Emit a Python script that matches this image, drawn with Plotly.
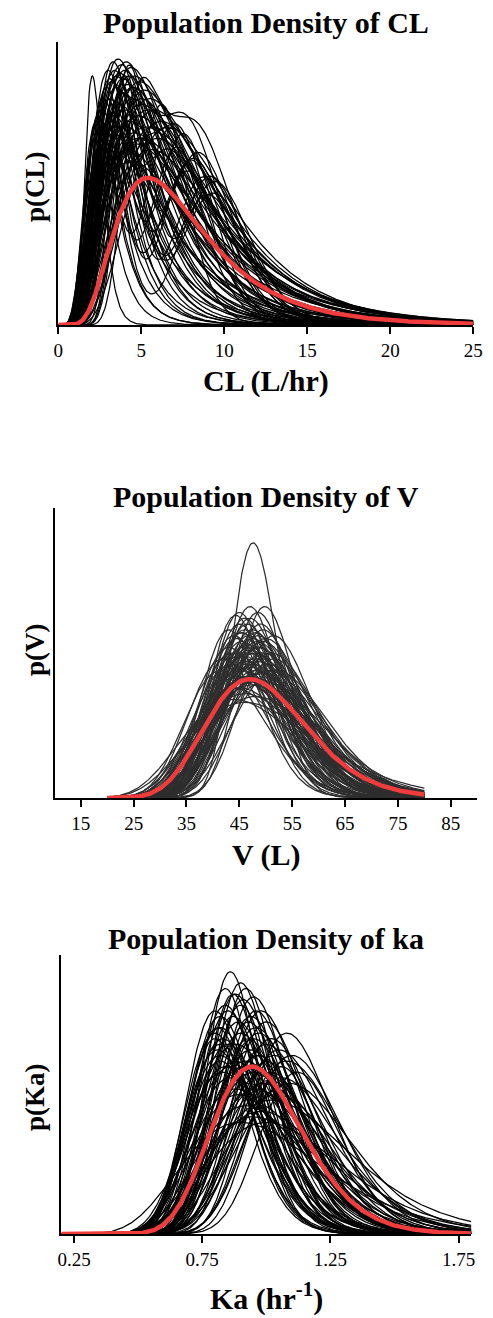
import numpy as np
import plotly.graph_objects as go

# ---------------- data (per-curve density parameters) -------------
# CL panel: unimodal individual densities  (mode, peak height, log-spread)
CL_MODE = [2.05, 2.9, 3.0, 3.2, 3.3, 3.5, 3.6, 3.8, 3.9, 4.1, 4.2, 4.4, 4.6, 4.9, 5.2,
           3.3, 3.7, 4.0, 4.3, 4.5, 5.0, 5.5, 5.8, 6.2, 6.6, 4.8, 5.3, 5.9, 3.1, 3.4,
           2.6, 2.8, 4.7, 5.6, 3.6, 4.4, 2.5, 3.0, 5.1, 2.3, 3.9, 4.6,
           3.4, 3.7, 4.0, 4.3, 3.1, 2.7, 3.5, 3.9, 4.5, 5.0, 5.4, 2.4, 3.2, 4.1, 4.8, 3.6,
           5.7, 6.0, 2.2, 4.2]
CL_PEAK = [0.88, 0.84, 0.90, 0.86, 0.93, 0.88, 0.94, 0.92, 0.87, 0.93, 0.85, 0.91, 0.88, 0.86, 0.83,
           0.74, 0.78, 0.76, 0.72, 0.80, 0.78, 0.80, 0.76, 0.72, 0.70, 0.74, 0.70, 0.68, 0.80, 0.70,
           0.76, 0.66, 0.64, 0.62, 0.60, 0.58, 0.70, 0.62, 0.66, 0.72, 0.82, 0.68,
           0.90, 0.89, 0.90, 0.88, 0.87, 0.80, 0.84, 0.82, 0.84, 0.80, 0.76, 0.74, 0.72, 0.70,
           0.66, 0.66, 0.70, 0.66, 0.66, 0.62]
CL_SPREAD = [0.26, 0.40, 0.42, 0.44, 0.40, 0.46, 0.45, 0.48, 0.50, 0.46, 0.52, 0.48, 0.50, 0.52, 0.50,
             0.55, 0.52, 0.56, 0.58, 0.54, 0.55, 0.52, 0.50, 0.48, 0.46, 0.58, 0.56, 0.50, 0.50, 0.60,
             0.48, 0.55, 0.60, 0.55, 0.62, 0.62, 0.45, 0.58, 0.56, 0.42, 0.44, 0.58,
             0.44, 0.47, 0.50, 0.49, 0.43, 0.42, 0.50, 0.53, 0.52, 0.52, 0.50, 0.40, 0.52, 0.56,
             0.57, 0.58, 0.48, 0.46, 0.38, 0.60]
# CL panel: two-humped individual densities
CLB_MODE1 = [3.0, 3.5, 2.8, 4.0, 3.3, 3.8, 2.6, 4.4, 3.2, 3.6, 2.9, 4.2, 3.4, 5.0, 3.0, 3.7, 4.6]
CLB_PEAK1 = [0.80, 0.85, 0.70, 0.88, 0.75, 0.82, 0.65, 0.84, 0.78, 0.70, 0.72, 0.90, 0.66, 0.84, 0.68, 0.76, 0.80]
CLB_SPREAD1 = [0.30, 0.28, 0.32, 0.25, 0.30, 0.28, 0.35, 0.25, 0.30, 0.28, 0.30, 0.24, 0.32, 0.25, 0.30, 0.30, 0.26]
CLB_MODE2 = [8.0, 8.8, 7.2, 8.5, 7.6, 9.2, 6.8, 9.5, 6.4, 8.2, 9.0, 7.4, 7.0, 8.6, 7.8, 9.4, 8.0]
CLB_PEAK2 = [0.58, 0.52, 0.62, 0.60, 0.66, 0.52, 0.68, 0.50, 0.72, 0.58, 0.46, 0.64, 0.56, 0.62, 0.54, 0.46, 0.64]
CLB_SPREAD2 = [0.22, 0.21, 0.23, 0.22, 0.21, 0.20, 0.23, 0.20, 0.20, 0.22, 0.22, 0.21, 0.26, 0.22, 0.24, 0.21, 0.22]
CL_MEAN = (5.4, 0.52, 0.50)   # population (red) density: mode, peak, spread

# V panel
V_MODE = [47.6, 49.8, 44.3, 45.0, 46.0, 47.0, 48.0, 49.0, 50.0, 44.0, 43.0, 45.5, 46.5, 47.5,
          48.5, 49.5, 51.0, 42.0, 44.5, 45.8, 46.8, 47.8, 48.8, 50.5, 43.5, 45.2, 46.2, 47.2,
          48.2, 49.2, 44.8, 46.6, 48.6, 45.6, 47.4, 46.0, 48.0, 44.0, 50.0, 52.0, 41.5, 43.0,
          51.5, 45.0, 47.0, 48.5, 46.0, 49.5, 44.0, 46.0, 47.0, 45.4, 48.4,
          46.5, 47.5, 45.5, 48.5, 44.5, 49.5, 46.0, 47.0, 48.0, 45.0, 49.0, 46.5, 47.5, 45.5,
          48.5, 47.0, 46.0, 48.0, 44.5, 50.5, 43.5, 51.5, 46.8, 48.8, 45.0]
V_PEAK = [0.88, 0.66, 0.63, 0.60, 0.58, 0.62, 0.57, 0.60, 0.55, 0.56, 0.52, 0.54, 0.53, 0.55,
          0.52, 0.50, 0.50, 0.48, 0.50, 0.49, 0.50, 0.48, 0.47, 0.46, 0.46, 0.45, 0.46, 0.45,
          0.44, 0.43, 0.42, 0.42, 0.41, 0.40, 0.39, 0.36, 0.35, 0.38, 0.40, 0.44, 0.44, 0.58,
          0.56, 0.64, 0.66, 0.64, 0.62, 0.58, 0.34, 0.33, 0.52, 0.57, 0.54,
          0.60, 0.58, 0.57, 0.56, 0.55, 0.54, 0.52, 0.51, 0.50, 0.49, 0.48, 0.47, 0.46, 0.44,
          0.43, 0.42, 0.41, 0.40, 0.45, 0.44, 0.50, 0.48, 0.56, 0.52, 0.38]
V_SPREAD = [0.09, 0.11, 0.12, 0.13, 0.14, 0.13, 0.14, 0.13, 0.15, 0.14, 0.15, 0.15, 0.16, 0.15,
            0.16, 0.16, 0.16, 0.17, 0.16, 0.17, 0.17, 0.17, 0.17, 0.18, 0.18, 0.18, 0.18, 0.19,
            0.19, 0.19, 0.20, 0.20, 0.20, 0.21, 0.21, 0.22, 0.22, 0.21, 0.20, 0.17, 0.18, 0.13,
            0.13, 0.12, 0.115, 0.12, 0.125, 0.135, 0.25, 0.26, 0.16, 0.14, 0.15,
            0.13, 0.14, 0.14, 0.145, 0.15, 0.15, 0.16, 0.165, 0.17, 0.17, 0.175, 0.18, 0.185, 0.19,
            0.195, 0.20, 0.205, 0.21, 0.18, 0.18, 0.16, 0.15, 0.14, 0.15, 0.22]
V_MEAN = (47.0, 0.41, 0.20)

# ka panel
KA_MODE = [0.86, 0.90, 0.88, 0.92, 0.95, 0.84, 0.80, 0.98, 1.00, 0.87, 0.93, 0.96, 0.82, 0.80,
           0.90, 1.02, 1.05, 0.85, 0.94, 0.97, 0.88, 0.82, 0.81, 1.08, 1.10, 0.91, 0.99, 0.86,
           0.93, 1.01, 0.83, 0.96, 0.89, 1.04, 0.92, 0.98, 1.00, 0.95, 1.12, 1.06, 1.00, 0.96,
           0.80, 0.82, 0.84, 0.90, 0.95, 0.88, 1.02, 0.90, 1.08, 0.82,
           0.87, 0.91, 0.85, 0.89, 0.94, 0.97, 0.83, 0.82, 1.00, 1.03, 0.92, 0.86, 0.95, 0.99,
           0.88, 1.06, 0.84, 0.81, 1.09, 0.93, 0.96, 1.02, 1.04, 0.98]
KA_PEAK = [0.94, 0.90, 0.86, 0.88, 0.85, 0.82, 0.80, 0.80, 0.76, 0.78, 0.76, 0.74, 0.74, 0.72,
           0.72, 0.70, 0.66, 0.68, 0.66, 0.64, 0.62, 0.64, 0.66, 0.62, 0.64, 0.60, 0.58, 0.56,
           0.54, 0.55, 0.58, 0.52, 0.50, 0.50, 0.46, 0.44, 0.40, 0.42, 0.58, 0.60, 0.62, 0.64,
           0.70, 0.62, 0.88, 0.82, 0.70, 0.68, 0.48, 0.40, 0.72, 0.78,
           0.86, 0.84, 0.80, 0.76, 0.78, 0.72, 0.70, 0.68, 0.68, 0.64, 0.62, 0.60, 0.58, 0.54,
           0.52, 0.56, 0.60, 0.74, 0.54, 0.70, 0.80, 0.58, 0.52, 0.46]
KA_SPREAD = [0.12, 0.13, 0.14, 0.13, 0.14, 0.15, 0.15, 0.15, 0.15, 0.15, 0.16, 0.16, 0.17, 0.16,
             0.16, 0.16, 0.17, 0.17, 0.18, 0.18, 0.18, 0.18, 0.17, 0.18, 0.16, 0.19, 0.19, 0.20,
             0.20, 0.20, 0.20, 0.21, 0.22, 0.21, 0.23, 0.24, 0.26, 0.25, 0.14, 0.13, 0.12, 0.12,
             0.15, 0.17, 0.13, 0.14, 0.17, 0.21, 0.26, 0.30, 0.15, 0.16,
             0.13, 0.14, 0.15, 0.16, 0.15, 0.16, 0.17, 0.17, 0.17, 0.17, 0.19, 0.19, 0.20, 0.21,
             0.22, 0.19, 0.19, 0.15, 0.20, 0.15, 0.14, 0.15, 0.14, 0.16]
KA_MEAN = (0.944, 0.60, 0.19)

CL_TICKS = [0, 5, 10, 15, 20, 25]
V_TICKS = [15, 25, 35, 45, 55, 65, 75, 85]
KA_TICKS = [0.25, 0.75, 1.25, 1.75]
KA_TICKTEXT = ["0.25", "0.75", "1.25", "1.75"]

TITLES = ["Population Density of CL", "Population Density of V", "Population Density of ka"]
XTITLES = ["CL (L/hr)", "V (L)", "Ka (hr<sup>-1</sup>)"]
YTITLES = ["p(CL)", "p(V)", "p(Ka)"]


# ---------------- helpers -------------
def shape(x, m, h, s):
    """log-normal density shape scaled to height h at its mode m"""
    mu = np.log(m) + s * s
    return h * (m / x) * np.exp(-(np.log(x) - mu) ** 2 / (2 * s * s) + s * s / 2)


def stack(x, curves):
    xs, ys = [], []
    for y in curves:
        xs += list(x) + [None]
        ys += list(y) + [None]
    return xs, ys


x_cl = np.linspace(0.001, 25, 500)
x_v = np.linspace(20, 80, 400)
x_ka = np.linspace(0.2, 1.8, 400)

cl_curves = [shape(x_cl, m, h, s) for m, h, s in zip(CL_MODE, CL_PEAK, CL_SPREAD)]
cl_curves += [shape(x_cl, m1, h1, s1) + shape(x_cl, m2, h2, s2)
              for m1, h1, s1, m2, h2, s2 in zip(CLB_MODE1, CLB_PEAK1, CLB_SPREAD1,
                                                 CLB_MODE2, CLB_PEAK2, CLB_SPREAD2)]
v_curves = [shape(x_v, m, h, s) for m, h, s in zip(V_MODE, V_PEAK, V_SPREAD)]
ka_curves = [shape(x_ka, m, h, s) for m, h, s in zip(KA_MODE, KA_PEAK, KA_SPREAD)]

RED = "#f03c3c"
FONT = "Liberation Serif"

fig = go.Figure()
panels = [
    (x_cl, cl_curves, CL_MEAN, "#000000", "x", "y"),
    (x_v, v_curves, V_MEAN, "#2e2e2e", "x2", "y2"),
    (x_ka, ka_curves, KA_MEAN, "#000000", "x3", "y3"),
]
for xg, curves, mean, col, xa, ya in panels:
    xs, ys = stack(xg, curves)
    fig.add_trace(go.Scatter(x=xs, y=ys, mode="lines", line=dict(color=col, width=1.25),
                             xaxis=xa, yaxis=ya, hoverinfo="skip", showlegend=False))
    fig.add_trace(go.Scatter(x=xg, y=shape(xg, *mean), mode="lines",
                             line=dict(color=RED, width=4.5),
                             xaxis=xa, yaxis=ya, hoverinfo="skip", showlegend=False))

H = 1318.0
W = 493.0


def py(p):
    return 1 - p / H


def px(p):
    return p / W


xdoms = [(55, 483), (52, 487), (58, 481)]
ydoms = [(325, 42), (798, 508), (1234, 955)]
xranges = [[0, 25], [10.2, 90], [0.2, 1.8]]
tickvals = [CL_TICKS, V_TICKS, KA_TICKS]
ticktexts = [[str(t) for t in CL_TICKS], [str(t) for t in V_TICKS], KA_TICKTEXT]

layout = dict(width=493, height=1318, margin=dict(l=0, r=0, t=0, b=0),
              paper_bgcolor="white", plot_bgcolor="white", showlegend=False)
for i in range(3):
    sfx = "" if i == 0 else str(i + 1)
    layout["xaxis" + sfx] = dict(
        domain=[px(xdoms[i][0]), px(xdoms[i][1])], range=xranges[i],
        anchor="y" + sfx, showgrid=False, zeroline=False,
        showline=True, linecolor="black", linewidth=2,
        ticks="outside", ticklen=7, tickwidth=2, tickcolor="black",
        tickvals=tickvals[i], ticktext=ticktexts[i],
        tickfont=dict(family=FONT, size=19, color="black"))
    layout["yaxis" + sfx] = dict(
        domain=[py(ydoms[i][0]), py(ydoms[i][1])], range=[0, 1],
        anchor="x" + sfx, showgrid=False, zeroline=False,
        showline=True, linecolor="black", linewidth=2,
        ticks="", showticklabels=False)
fig.update_layout(**layout)

title_y = [23, 496, 938]
xtitle_y = [381, 855, 1296]
ytitle_y = [187, 650, 1097]
for i in range(3):
    cx = (xdoms[i][0] + xdoms[i][1]) / 2
    fig.add_annotation(text="<b>" + TITLES[i] + "</b>", x=px(cx), y=py(title_y[i]),
                       xref="paper", yref="paper", showarrow=False,
                       xanchor="center", yanchor="middle",
                       font=dict(family=FONT, size=30, color="black"))
    fig.add_annotation(text="<b>" + XTITLES[i] + "</b>", x=px(cx), y=py(xtitle_y[i]),
                       xref="paper", yref="paper", showarrow=False,
                       xanchor="center", yanchor="middle",
                       font=dict(family=FONT, size=30, color="black"))
    fig.add_annotation(text="<b>" + YTITLES[i] + "</b>", x=px(31), y=py(ytitle_y[i]),
                       xref="paper", yref="paper", showarrow=False, textangle=-90,
                       xanchor="center", yanchor="middle",
                       font=dict(family=FONT, size=27, color="black"))

fig.write_html("out.html")
